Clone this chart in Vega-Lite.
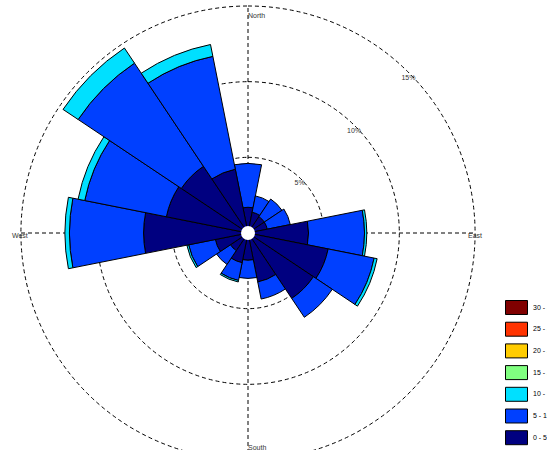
{
  "$schema": "https://vega.github.io/schema/vega-lite/v6.json",
  "width": 496,
  "height": 466,
  "autosize": {"type": "none"},
  "padding": {"left": 0, "top": 0, "right": 51, "bottom": 0},
  "background": "white",
  "config": {"view": {"stroke": null}, "text": {"font": "Liberation Sans"}},
  "datasets": {
    "wind": [
      {"dir": "N", "d0": -11.25, "d1": 11.25, "band": "0 - 5", "lo": 0, "freq": 1.7},
      {"dir": "N", "d0": -11.25, "d1": 11.25, "band": "5 - 10", "lo": 5, "freq": 2.9},
      {"dir": "NNE", "d0": 11.25, "d1": 33.75, "band": "0 - 5", "lo": 0, "freq": 1.4},
      {"dir": "NNE", "d0": 11.25, "d1": 33.75, "band": "5 - 10", "lo": 5, "freq": 1.1},
      {"dir": "NE", "d0": 33.75, "d1": 56.25, "band": "0 - 5", "lo": 0, "freq": 1.3},
      {"dir": "NE", "d0": 33.75, "d1": 56.25, "band": "5 - 10", "lo": 5, "freq": 1.4},
      {"dir": "ENE", "d0": 56.25, "d1": 78.75, "band": "0 - 5", "lo": 0, "freq": 1.3},
      {"dir": "ENE", "d0": 56.25, "d1": 78.75, "band": "5 - 10", "lo": 5, "freq": 1.55},
      {"dir": "E", "d0": 78.75, "d1": 101.25, "band": "0 - 5", "lo": 0, "freq": 4.0},
      {"dir": "E", "d0": 78.75, "d1": 101.25, "band": "5 - 10", "lo": 5, "freq": 3.7},
      {"dir": "E", "d0": 78.75, "d1": 101.25, "band": "10 - 15", "lo": 10, "freq": 0.15},
      {"dir": "ESE", "d0": 101.25, "d1": 123.75, "band": "0 - 5", "lo": 0, "freq": 5.4},
      {"dir": "ESE", "d0": 101.25, "d1": 123.75, "band": "5 - 10", "lo": 5, "freq": 3.1},
      {"dir": "ESE", "d0": 101.25, "d1": 123.75, "band": "10 - 15", "lo": 10, "freq": 0.2},
      {"dir": "SE", "d0": 123.75, "d1": 146.25, "band": "0 - 5", "lo": 0, "freq": 5.2},
      {"dir": "SE", "d0": 123.75, "d1": 146.25, "band": "5 - 10", "lo": 5, "freq": 1.5},
      {"dir": "SSE", "d0": 146.25, "d1": 168.75, "band": "0 - 5", "lo": 0, "freq": 3.3},
      {"dir": "SSE", "d0": 146.25, "d1": 168.75, "band": "5 - 10", "lo": 5, "freq": 1.15},
      {"dir": "S", "d0": 168.75, "d1": 191.25, "band": "0 - 5", "lo": 0, "freq": 1.8},
      {"dir": "S", "d0": 168.75, "d1": 191.25, "band": "5 - 10", "lo": 5, "freq": 1.2},
      {"dir": "SSW", "d0": 191.25, "d1": 213.75, "band": "0 - 5", "lo": 0, "freq": 2.0},
      {"dir": "SSW", "d0": 191.25, "d1": 213.75, "band": "5 - 10", "lo": 5, "freq": 1.2},
      {"dir": "SSW", "d0": 191.25, "d1": 213.75, "band": "10 - 15", "lo": 10, "freq": 0.1},
      {"dir": "SW", "d0": 213.75, "d1": 236.25, "band": "0 - 5", "lo": 0, "freq": 1.4},
      {"dir": "SW", "d0": 213.75, "d1": 236.25, "band": "5 - 10", "lo": 5, "freq": 1.1},
      {"dir": "WSW", "d0": 236.25, "d1": 258.75, "band": "0 - 5", "lo": 0, "freq": 2.2},
      {"dir": "WSW", "d0": 236.25, "d1": 258.75, "band": "5 - 10", "lo": 5, "freq": 1.8},
      {"dir": "WSW", "d0": 236.25, "d1": 258.75, "band": "10 - 15", "lo": 10, "freq": 0.12},
      {"dir": "W", "d0": 258.75, "d1": 281.25, "band": "0 - 5", "lo": 0, "freq": 6.9},
      {"dir": "W", "d0": 258.75, "d1": 281.25, "band": "5 - 10", "lo": 5, "freq": 4.9},
      {"dir": "W", "d0": 258.75, "d1": 281.25, "band": "10 - 15", "lo": 10, "freq": 0.3},
      {"dir": "WNW", "d0": 281.25, "d1": 303.75, "band": "0 - 5", "lo": 0, "freq": 5.5},
      {"dir": "WNW", "d0": 281.25, "d1": 303.75, "band": "5 - 10", "lo": 5, "freq": 5.5},
      {"dir": "WNW", "d0": 281.25, "d1": 303.75, "band": "10 - 15", "lo": 10, "freq": 0.45},
      {"dir": "NW", "d0": 303.75, "d1": 326.25, "band": "0 - 5", "lo": 0, "freq": 5.3},
      {"dir": "NW", "d0": 303.75, "d1": 326.25, "band": "5 - 10", "lo": 5, "freq": 8.2},
      {"dir": "NW", "d0": 303.75, "d1": 326.25, "band": "10 - 15", "lo": 10, "freq": 1.2},
      {"dir": "NNW", "d0": 326.25, "d1": 348.75, "band": "0 - 5", "lo": 0, "freq": 4.3},
      {"dir": "NNW", "d0": 326.25, "d1": 348.75, "band": "5 - 10", "lo": 5, "freq": 7.6},
      {"dir": "NNW", "d0": 326.25, "d1": 348.75, "band": "10 - 15", "lo": 10, "freq": 0.8}
    ],
    "rings": [
      {"ring": 5, "label": "5%"},
      {"ring": 10, "label": "10%"},
      {"ring": 15, "label": "15%"}
    ],
    "axes": [
      {"x0": -15, "x1": 15, "y0": 0, "y1": 0},
      {"x0": 0, "x1": 0, "y0": -15, "y1": 15}
    ]
  },
  "layer": [
    {
      "data": {"name": "rings"},
      "mark": {"type": "arc", "theta": 0, "theta2": 6.283185307179586, "filled": false, "stroke": "black", "strokeWidth": 1, "strokeDash": [4, 3]},
      "encoding": {
        "radius": {"field": "ring", "type": "quantitative", "stack": null, "scale": {"type": "linear", "domain": [0, 15], "range": [0, 227], "zero": true, "nice": false}}
      }
    },
    {
      "data": {"name": "axes"},
      "mark": {"type": "rule", "stroke": "black", "strokeWidth": 1, "strokeDash": [4, 3]},
      "encoding": {
        "x": {"field": "x0", "type": "quantitative", "axis": null, "scale": {"domain": [-16.388, 16.388], "nice": false, "zero": false}},
        "x2": {"field": "x1"},
        "y": {"field": "y0", "type": "quantitative", "axis": null, "scale": {"domain": [-15.397, 15.397], "nice": false, "zero": false}},
        "y2": {"field": "y1"}
      }
    },
    {
      "data": {"name": "wind"},
      "transform": [
        {"stack": "freq", "groupby": ["dir"], "sort": [{"field": "lo", "order": "ascending"}], "as": ["r0", "r1"]}
      ],
      "mark": {"type": "arc", "stroke": "black", "strokeWidth": 1},
      "encoding": {
        "theta": {"field": "d0", "type": "quantitative", "stack": null, "scale": {"domain": [0, 360], "range": [0, 6.283185307179586], "nice": false, "zero": false}},
        "theta2": {"field": "d1"},
        "radius": {"field": "r1", "type": "quantitative", "stack": null, "scale": {"type": "linear", "domain": [0, 15], "range": [0, 227], "zero": true, "nice": false}},
        "radius2": {"field": "r0"},
        "color": {
          "field": "band",
          "type": "nominal",
          "scale": {
            "domain": ["30 - 35", "25 - 30", "20 - 25", "15 - 20", "10 - 15", "5 - 10", "0 - 5"],
            "range": ["#800000", "#FF3300", "#FFCC00", "#80FF80", "#00E0FF", "#0040FF", "#000080"]
          },
          "legend": {
            "title": null,
            "orient": "none",
            "legendX": 505,
            "legendY": 296,
            "padding": 0,
            "symbolType": "M-1,-0.636H1V0.636H-1Z",
            "symbolSize": 484,
            "symbolStrokeColor": "black",
            "symbolStrokeWidth": 1,
            "symbolOpacity": 1,
            "labelFontSize": 7,
            "labelFont": "Liberation Sans",
            "labelColor": "black",
            "labelOffset": 5,
            "rowPadding": 0.7
          }
        }
      }
    },
    {
      "data": {"values": [{"hole": 1}]},
      "mark": {"type": "arc", "radius": 7, "theta": 0, "theta2": 6.283185307179586, "fill": "white", "stroke": null},
      "encoding": {}
    },
    {
      "data": {"name": "rings"},
      "mark": {"type": "text", "fontSize": 7, "align": "center", "baseline": "middle", "radiusOffset": -4, "color": "#333333"},
      "encoding": {
        "text": {"field": "label"},
        "theta": {"datum": 46, "type": "quantitative", "stack": null},
        "radius": {"field": "ring", "type": "quantitative", "stack": null}
      }
    },
    {
      "data": {"values": [{"label": "North", "deg": 0, "ring": 15}]},
      "mark": {"type": "text", "fontSize": 7, "align": "left", "baseline": "middle", "dy": 10, "color": "#333333"},
      "encoding": {
        "text": {"field": "label"},
        "theta": {"field": "deg", "type": "quantitative", "stack": null},
        "radius": {"field": "ring", "type": "quantitative", "stack": null}
      }
    },
    {
      "data": {"values": [{"label": "South", "deg": 180, "ring": 15}]},
      "mark": {"type": "text", "fontSize": 7, "align": "left", "baseline": "middle", "dy": -12, "color": "#333333"},
      "encoding": {
        "text": {"field": "label"},
        "theta": {"field": "deg", "type": "quantitative", "stack": null},
        "radius": {"field": "ring", "type": "quantitative", "stack": null}
      }
    },
    {
      "data": {"values": [{"label": "West", "deg": 270, "ring": 15}]},
      "mark": {"type": "text", "fontSize": 7, "align": "left", "baseline": "middle", "dx": -9, "dy": 3, "color": "#333333"},
      "encoding": {
        "text": {"field": "label"},
        "theta": {"field": "deg", "type": "quantitative", "stack": null},
        "radius": {"field": "ring", "type": "quantitative", "stack": null}
      }
    },
    {
      "data": {"values": [{"label": "East", "deg": 90, "ring": 15}]},
      "mark": {"type": "text", "fontSize": 7, "align": "right", "baseline": "middle", "dx": 7, "dy": 3, "color": "#333333"},
      "encoding": {
        "text": {"field": "label"},
        "theta": {"field": "deg", "type": "quantitative", "stack": null},
        "radius": {"field": "ring", "type": "quantitative", "stack": null}
      }
    }
  ]
}
